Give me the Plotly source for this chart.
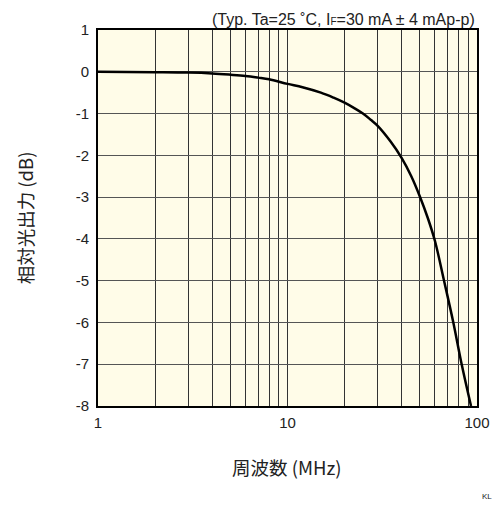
import plotly.graph_objects as go

freq_mhz = [1, 2, 3, 4, 5, 6, 7, 8, 10, 12, 15, 17.5, 20, 22.5, 25, 27.5, 30,
            35, 40, 45, 50, 55, 60, 67, 75, 83, 93]
rel_output_db = [0, -0.01, -0.02, -0.04, -0.07, -0.10, -0.14, -0.18, -0.29, -0.37,
                 -0.50, -0.62, -0.74, -0.87, -1.00, -1.15, -1.30,
                 -1.67, -2.06, -2.50, -2.99, -3.50, -4.05, -5.0, -6.0, -7.0, -8.0]

x_grid_vals = [1, 2, 3, 4, 5, 6, 7, 8, 9, 10, 20, 30, 40, 50, 60, 70, 80, 90, 100]
x_tick_text = ["1" if v == 1 else "10" if v == 10 else "100" if v == 100 else "" for v in x_grid_vals]
y_tick_vals = [1, 0, -1, -2, -3, -4, -5, -6, -7, -8]
y_tick_text = [str(v) for v in y_tick_vals]

fig = go.Figure()
fig.add_trace(go.Scatter(x=freq_mhz, y=rel_output_db, mode="lines",
                         line=dict(color="black", width=2.5, shape="spline", smoothing=1.0),
                         showlegend=False, hoverinfo="skip"))

font_main = "Liberation Sans, Arial, sans-serif"
font_cjk = "Noto Sans CJK JP, Liberation Sans, sans-serif"
fig.update_layout(
    width=495, height=506, autosize=False,
    margin=dict(l=98.3, r=18.3, t=30, b=99.5, autoexpand=False),
    paper_bgcolor="white",
    plot_bgcolor="#FFFCE8",
    font=dict(family=font_main, size=15, color="#222"),
    xaxis=dict(type="log", range=[0, 2], tickvals=x_grid_vals, ticktext=x_tick_text,
               showgrid=True, gridcolor="#333", gridwidth=1,
               showline=True, linecolor="black", linewidth=2, mirror=True,
               ticks="", zeroline=False, ticklabelstandoff=2,
               tickfont=dict(family=font_main, size=15, color="#222")),
    yaxis=dict(range=[-8, 1], tickvals=y_tick_vals, ticktext=y_tick_text,
               showgrid=True, gridcolor="#555", gridwidth=1,
               showline=True, linecolor="black", linewidth=2, mirror=True,
               ticks="", zeroline=False, ticklabelstandoff=4,
               tickfont=dict(family=font_main, size=15, color="#222")),
)

fig.add_annotation(xref="paper", yref="paper", x=1.0, y=1.0, xanchor="right", yanchor="bottom",
                   text="(Typ. Ta=25 ˚C, I<span style='font-size:10px'>F</span>=30 mA ± 4 mAp-p)",
                   showarrow=False, font=dict(family=font_main, size=16, color="#222"), yshift=0)
fig.add_annotation(xref="paper", yref="paper", x=0.497, y=-0.163, xanchor="center", yanchor="middle",
                   text="周波数 (MHz)", showarrow=False,
                   font=dict(family=font_cjk, size=18.5, color="#222"))
fig.add_annotation(xref="paper", yref="paper", x=-0.1937, y=0.5007, xanchor="center", yanchor="middle",
                   text="相対光出力 (dB)", showarrow=False, textangle=-90,
                   font=dict(family=font_cjk, size=18.5, color="#222"))
fig.add_annotation(xref="paper", yref="paper", x=1.0457, y=-0.240, xanchor="right", yanchor="middle",
                   text="KL", showarrow=False, font=dict(family=font_main, size=8, color="#222"))

fig.write_html("out.html",
               config={"responsive": False, "displayModeBar": False},
               post_script="document.body.style.margin='0';document.body.style.padding='0';"
                           "document.body.style.overflow='hidden';")
